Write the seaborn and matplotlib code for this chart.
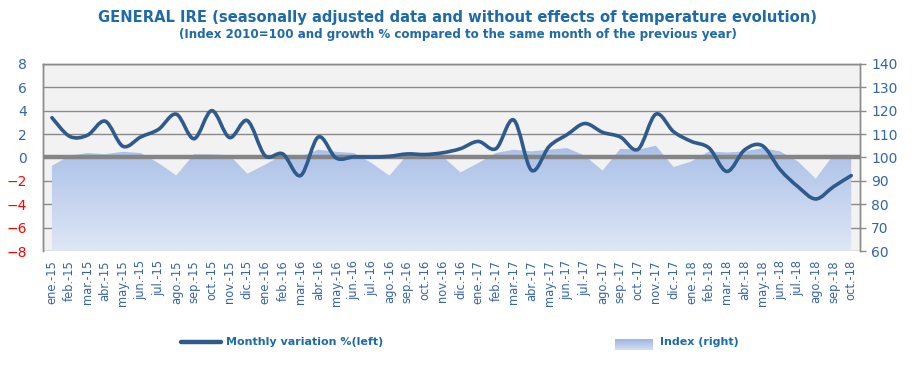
import numpy as np
import matplotlib
matplotlib.use("Agg")
import matplotlib.pyplot as plt
from matplotlib.path import Path
from matplotlib.patches import PathPatch
from matplotlib.lines import Line2D
import seaborn as sns

# data
months = ["ene.", "feb.", "mar.", "abr.", "may.", "jun.",
          "jul.", "ago.", "sep.", "oct.", "nov.", "dic."]
labels = [f"{m}-{y}" for y in ["15", "16", "17", "18"] for m in months][:46]

variation = [3.4, 1.8, 1.9, 3.1, 0.95, 1.75, 2.4, 3.7, 1.6, 4.0, 1.7, 3.15,
             0.15, 0.3, -1.55, 1.75, -0.05, 0.05, 0.03, 0.1, 0.3, 0.25, 0.4, 0.75,
             1.37, 0.75, 3.2, -1.1, 0.95, 1.95, 2.9, 2.15, 1.75, 0.7, 3.7, 2.2,
             1.37, 0.8, -1.2, 0.65, 1.0, -1.05, -2.5, -3.55, -2.5, -1.55]

index = [96.4, 100.7, 101.9, 101.4, 102.4, 101.9, 97.6, 92.3, 101.4, 101.3, 101.0, 93.0,
         96.9, 101.1, 100.4, 103.3, 102.4, 101.9, 97.6, 92.2, 101.1, 101.0, 100.4, 93.6,
         97.6, 101.9, 103.3, 102.6, 103.3, 104.0, 100.7, 94.4, 103.7, 103.3, 105.0, 95.9,
         98.3, 102.6, 102.1, 102.6, 104.0, 102.6, 98.3, 90.9, 101.1, 101.1]

left_ticks = [-8, -6, -4, -2, 0, 2, 4, 6, 8]
right_ticks = [60, 70, 80, 90, 100, 110, 120, 130, 140]

BLUE_TXT = "#1f6aa8"
TICK_BLUE = "#3564a6"
LINE_C = "#2e5a8c"
GRID_C = "#8a8a8a"

sns.set_style("white")
plt.rcParams["font.family"] = ["DejaVu Sans"]

fig = plt.figure(figsize=(9.16, 3.67), dpi=100)
ax2 = fig.add_axes([0.047, 0.316, 0.892, 0.510])
ax = ax2.twinx()
ax.yaxis.tick_left()
ax2.yaxis.tick_right()
ax.set_zorder(2)
ax.patch.set_visible(False)
ax2.set_facecolor("#f2f2f2")

x = np.arange(len(labels))

# index area with vertical gradient (right axis), darker at the top
ax2.set_ylim(60, 140)
ax2.set_xlim(-0.5, len(labels) - 0.5)
poly = ax2.fill_between(x, index, 60, color="none", lw=0, zorder=1)
grad = np.linspace(0, 1, 256).reshape(-1, 1)
cmap = matplotlib.colors.LinearSegmentedColormap.from_list("g", ["#a6bde6", "#dfe7f5"])
img = ax2.imshow(grad, cmap=cmap, aspect="auto", origin="upper",
                 extent=[-0.5, len(labels) - 0.5, 60, 108], zorder=1)
img.set_clip_path(poly.get_paths()[0], transform=ax2.transData)
ax2.set_ylim(60, 140)
ax2.set_xlim(-0.5, len(labels) - 0.5)
ax2.set_yticks(right_ticks)
ax2.yaxis.grid(True, color=GRID_C, lw=1.0, zorder=0)
ax2.set_axisbelow(True)
ax2.tick_params(axis="y", right=True, length=4, width=1, color=GRID_C,
                labelsize=10, labelcolor=TICK_BLUE, pad=4)
ax2.set_xticks(x)
ax2.set_xticklabels(labels, rotation=90, fontsize=8.3, color=TICK_BLUE)
ax2.tick_params(axis="x", bottom=False, pad=3)

# monthly variation line (left axis), smooth curve through the points
ax.set_ylim(-8, 8)
ax.axhline(0, color="#858585", lw=3.2, zorder=2)
pts = np.column_stack([x, variation]).astype(float)
ext = np.vstack([pts[0], pts, pts[-1]])
verts = [tuple(pts[0])]
codes = [Path.MOVETO]
for i in range(len(pts) - 1):
    p0, p1, p2, p3 = ext[i], ext[i + 1], ext[i + 2], ext[i + 3]
    c1 = p1 + (p2 - p0) / 6.0
    c2 = p2 - (p3 - p1) / 6.0
    verts += [tuple(c1), tuple(c2), tuple(p2)]
    codes += [Path.CURVE4] * 3
ax.add_patch(PathPatch(Path(verts, codes), fill=False, edgecolor=LINE_C, lw=2.6,
                       capstyle="round", joinstyle="round", zorder=3))
ax.set_yticks(left_ticks)
ax.tick_params(axis="y", left=False, labelsize=10, pad=8)
for t, v in zip(ax.get_yticklabels(), left_ticks):
    t.set_color("#ff0000" if v < 0 else TICK_BLUE)

for a in (ax, ax2):
    for s in a.spines.values():
        s.set_color(GRID_C)
        s.set_linewidth(1.0)
    a.spines["bottom"].set_visible(False)

# titles
fig.text(0.5, 0.952, "GENERAL IRE (seasonally adjusted data and without effects of temperature evolution)",
         ha="center", va="center", fontsize=10.6, fontweight="bold", color=BLUE_TXT)
fig.text(0.5, 0.905, "(Index 2010=100 and growth % compared to the same month of the previous year)",
         ha="center", va="center", fontsize=8.6, fontweight="bold", color=BLUE_TXT)

# legend
fig.add_artist(Line2D([0.198, 0.241], [0.068, 0.068], color=LINE_C, lw=3.2,
                      solid_capstyle="round", transform=fig.transFigure))
fig.text(0.247, 0.069, "Monthly variation %(left)", ha="left", va="center",
         fontsize=8, fontweight="bold", color=BLUE_TXT)
leg_grad = fig.add_axes([0.671, 0.046, 0.041, 0.030])
leg_grad.imshow(grad, cmap=matplotlib.colors.LinearSegmentedColormap.from_list(
    "g2", ["#98b0e2", "#d5dff2"]), aspect="auto")
leg_grad.axis("off")
fig.text(0.721, 0.069, "Index (right)", ha="left", va="center",
         fontsize=8, fontweight="bold", color=BLUE_TXT)

fig.savefig("out.png", dpi=100)
